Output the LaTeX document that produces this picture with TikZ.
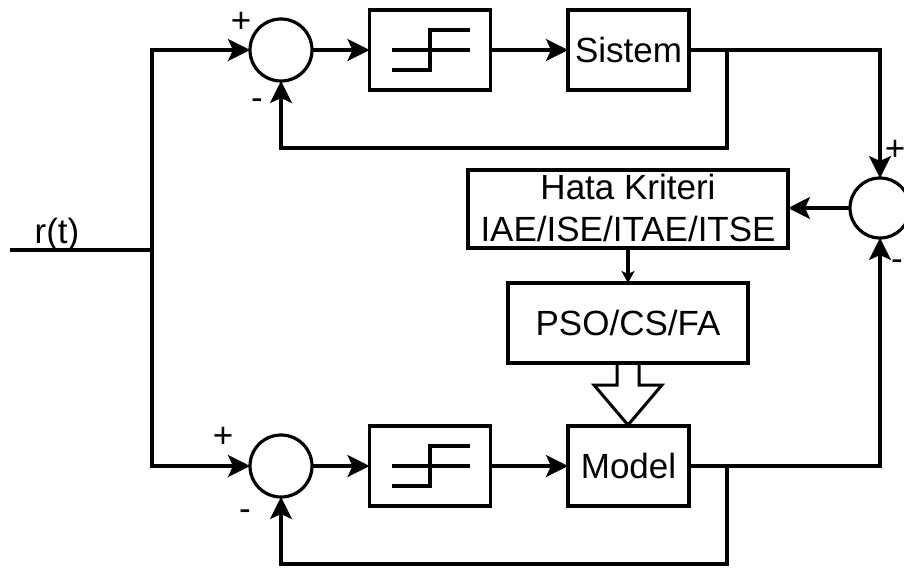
\documentclass[tikz,border=0pt]{standalone}
\usepackage{fontspec}
\setmainfont{Liberation Sans}
\usetikzlibrary{positioning,arrows.meta}

\begin{document}
\begin{tikzpicture}[
  x=1pt, y=-1pt,
  font=\fontsize{35}{42}\selectfont,
  line width=3.2pt,
  sum/.style={circle, draw, minimum size=62pt, inner sep=0pt, outer sep=0pt},
  blk/.style={rectangle, draw, minimum width=121pt, minimum height=80pt,
              inner sep=0pt, outer sep=0pt, align=center},
  arr/.style={-{Stealth[length=22pt, width=22pt, inset=5pt]}},
  sarr/.style={-{Stealth[length=12pt, width=13pt, inset=3pt]}},
  sgn/.style={inner sep=0pt}
]
\useasboundingbox (0,0) rectangle (904,568);

\node[sum] (S1) at (281,50) {};
\node[blk, right=57.5pt of S1] (R1) {};
\node[blk, right=77.5pt of R1] (P1) {Sistem};

\node[sum] (S2) at (281,466) {};
\node[blk, right=57.5pt of S2] (R2) {};
\node[blk, right=77.5pt of R2] (P2) {Model};

\node[sum, minimum size=60pt] (S3) at (880,208) {};
\node[blk, minimum width=320pt, minimum height=78pt] (crit) at (628,209)
  {\raisebox{3pt}{Hata Kriteri}\\\raisebox{3pt}{IAE/ISE/ITAE/ITSE}};
\node[blk, minimum width=240pt, below=35pt of crit] (opt) {PSO/CS/FA};

% relay symbols
\foreach \r in {R1,R2} {
  \draw ([xshift=-38pt]\r.center) -- ([xshift=40pt]\r.center);
  \draw ([xshift=-38pt,yshift=-20pt]\r.center) -- ([yshift=-20pt]\r.center)
    -- ([yshift=20pt]\r.center) -- ([xshift=40pt,yshift=20pt]\r.center);
}

% input
\coordinate (in) at (10,250);
\coordinate (br) at (152,250);
\node (rt) at (57,234) {r(t)};
\draw (in) -- (br);
\draw[arr] (br) |- (S1.west);
\draw[arr] (br) |- (S2.west);

% upper loop
\draw[arr] (S1) -- (R1);
\draw[arr] (R1) -- (P1);
\coordinate (b1) at (727,50);
\draw (P1.east) -- (b1);
\draw[arr] (b1) -| (S3.north);
\draw[arr] (b1) -- ++(0,98) -| (S1.south);

% lower loop
\draw[arr] (S2) -- (R2);
\draw[arr] (R2) -- (P2);
\coordinate (b2) at (727,466);
\draw (P2.east) -- (b2);
\draw[arr] (b2) -| (S3.south);
\draw[arr] (b2) -- ++(0,98) -| (S2.south);

% error and tuning
\draw[arr] (S3.west) -- (S3.west -| crit.east);
\draw[sarr] (crit) -- (opt);
\draw[line width=3pt] (617,363) -- (617,385) -- (594,385) -- (628,425)
  -- (662,385) -- (639,385) -- (639,363);

% signs
\node[sgn] (p1) at (241,22) {+};
\node[sgn] (m1) at (257,104) {-};
\node[sgn] (p2) at (223,437) {+};
\node[sgn] (m2) at (245,515) {-};
\node[sgn] (p3) at (895,150) {+};
\node[sgn] (m3) at (897,265) {-};

\end{tikzpicture}
\end{document}
